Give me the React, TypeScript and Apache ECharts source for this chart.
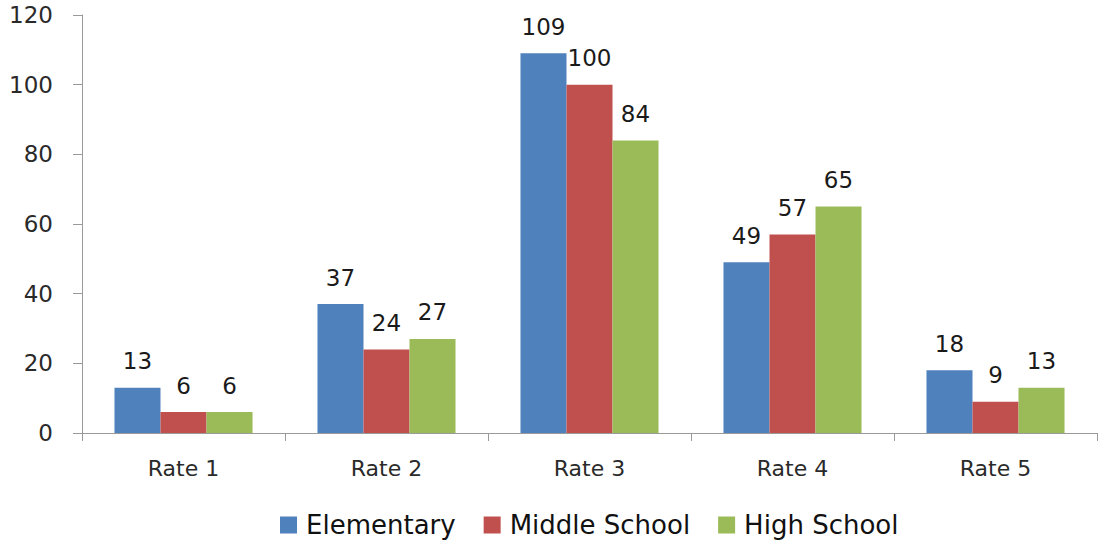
import React, { useEffect, useRef } from "react";
import * as echarts from "echarts";

const categories = ["Rate 1", "Rate 2", "Rate 3", "Rate 4", "Rate 5"];
const elementary = [13, 37, 109, 49, 18];
const middleSchool = [6, 24, 100, 57, 9];
const highSchool = [6, 27, 84, 65, 13];
const yTicks = { min: 0, max: 120, interval: 20 };

const FONT = "DejaVu Sans";

export default function App() {
  const ref = useRef<HTMLDivElement>(null);
  useEffect(() => {
    if (!ref.current) return;
    const chart = echarts.init(ref.current, null, { renderer: "svg" });
    const label = {
      show: true,
      position: "top",
      distance: 15,
      color: "#1a1a1a",
      fontFamily: FONT,
      fontSize: 23,
    };
    const mk = (name: string, data: number[], color: string) => ({
      name,
      type: "bar",
      data,
      itemStyle: { color },
      label,
      barGap: "0%",
      barCategoryGap: "32%",
    });
    chart.setOption({
      animation: false,
      backgroundColor: "#fff",
      grid: { left: 82, right: 2, top: 15, bottom: 111 },
      legend: {
        top: 507,
        left: 275,
        itemWidth: 17,
        itemHeight: 17,
        itemGap: 28,
        icon: "rect",
        textStyle: { fontFamily: FONT, fontSize: 26, color: "#111", padding: [0, 0, 0, 4] },
        data: ["Elementary", "Middle School", "High School"],
      },
      xAxis: {
        type: "category",
        data: categories,
        axisLine: { lineStyle: { color: "#9a9a9a", width: 1 } },
        axisTick: { show: true, length: 8, lineStyle: { color: "#9a9a9a" } },
        axisLabel: { margin: 24, fontFamily: FONT, fontSize: 22, color: "#2a2a2a" },
      },
      yAxis: {
        type: "value",
        min: yTicks.min,
        max: yTicks.max,
        interval: yTicks.interval,
        axisLine: { show: true, lineStyle: { color: "#9a9a9a", width: 1 } },
        axisTick: { show: true, length: 9, inside: false, lineStyle: { color: "#9a9a9a" } },
        splitLine: { show: false },
        axisLabel: { margin: 29, fontFamily: FONT, fontSize: 23, color: "#2a2a2a" },
      },
      series: [
        mk("Elementary", elementary, "#4F81BD"),
        mk("Middle School", middleSchool, "#C0504D"),
        mk("High School", highSchool, "#9BBB59"),
      ],
    });
    return () => chart.dispose();
  }, []);
  return (
    <div
      ref={ref}
      style={{ position: "absolute", left: 0, top: 0, width: 1099, height: 544 }}
    />
  );
}
